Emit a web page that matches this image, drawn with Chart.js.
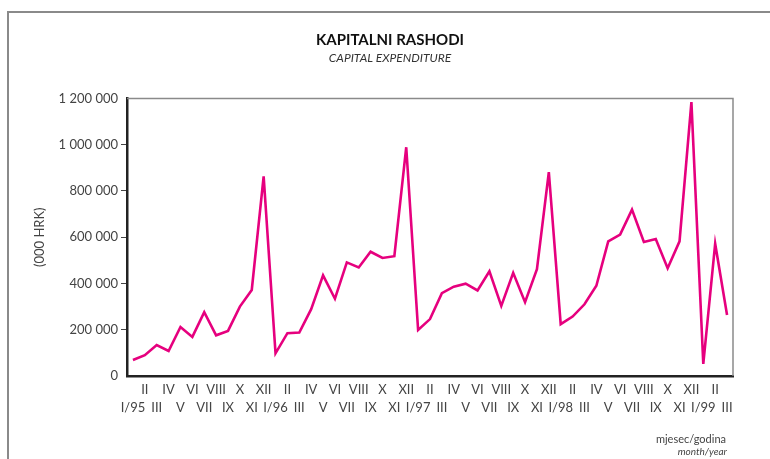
<!DOCTYPE html>
<html>
<head>
<meta charset="utf-8">
<script src="https://cdn.jsdelivr.net/npm/chart.js@4"></script>
<style>
  html, body { margin: 0; padding: 0; background: #fff; }
  #wrap { position: relative; width: 770px; height: 459px; }
</style>
</head>
<body>
<div id="wrap"><canvas id="c" width="770" height="459"></canvas></div>
<script>
// ---- Data ----
const romanMonths = ['I','II','III','IV','V','VI','VII','VIII','IX','X','XI','XII'];
const years = ['95','96','97','98','99'];
const monthsInLastYear = 3;

const capitalExpenditure = [
  // 1995
  69000, 90000, 134000, 108000, 212000, 169000, 276000, 176000, 195000, 300000, 372000, 863000,
  // 1996
  98000, 185000, 188000, 289000, 435000, 334000, 491000, 469000, 537000, 510000, 518000, 989000,
  // 1997
  199000, 246000, 358000, 386000, 399000, 370000, 453000, 303000, 446000, 319000, 462000, 881000,
  // 1998
  224000, 257000, 310000, 390000, 582000, 611000, 719000, 579000, 592000, 466000, 582000, 1184000,
  // 1999
  52000, 572000, 264000
];

const yTicks = [0, 200000, 400000, 600000, 800000, 1000000, 1200000];

const titleText = 'KAPITALNI RASHODI';
const subtitleText = 'CAPITAL EXPENDITURE';
const yAxisTitle = '(000 HRK)';
const xNoteLocal = 'mjesec/godina';
const xNoteEnglish = 'month/year';

// categories built from month names and years
const categories = [];
years.forEach((y, yi) => {
  const n = (yi === years.length - 1) ? monthsInLastYear : 12;
  for (let m = 0; m < n; m++) {
    categories.push(m === 0 ? 'I/' + y : romanMonths[m]);
  }
});

function fmt(v) {
  return String(v).replace(/\B(?=(\d{3})+(?!\d))/g, ' ');
}

const FONT = 'Lato, "Open Sans", sans-serif';

const framePlugin = {
  id: 'frame',
  beforeDraw(chart) {
    const ctx = chart.ctx;
    ctx.save();
    ctx.strokeStyle = '#8a8a8a';
    ctx.lineWidth = 2;
    ctx.beginPath();
    ctx.moveTo(8, 459);
    ctx.lineTo(8, 12);
    ctx.lineTo(770, 12);
    ctx.stroke();
    ctx.restore();
  },
  afterDatasetsDraw(chart) {
    const {ctx, chartArea: a} = chart;
    ctx.save();
    ctx.strokeStyle = '#8a8a8a';
    ctx.lineWidth = 1.5;
    ctx.beginPath();
    ctx.moveTo(a.left, a.top);
    ctx.lineTo(a.right, a.top);
    ctx.lineTo(a.right, a.bottom);
    ctx.stroke();
    ctx.restore();
  },
  afterDraw(chart) {
    const ctx = chart.ctx;
    ctx.save();
    ctx.fillStyle = '#444';
    ctx.textAlign = 'right';
    ctx.textBaseline = 'middle';
    ctx.font = '11px ' + FONT;
    ctx.fillText(xNoteLocal, 726, 439);
    ctx.font = 'italic 10px ' + FONT;
    ctx.fillText(xNoteEnglish, 727, 452);
    ctx.restore();
  }
};

const LEFT_PAD = 47;

new Chart(document.getElementById('c'), {
  type: 'line',
  data: {
    labels: categories,
    datasets: [{
      data: capitalExpenditure,
      borderColor: '#e6007e',
      borderWidth: 2.6,
      pointRadius: 0,
      tension: 0,
      fill: false
    }]
  },
  plugins: [framePlugin],
  options: {
    responsive: false,
    animation: false,
    devicePixelRatio: 1,
    layout: { padding: { top: 14, right: 37, bottom: 0, left: LEFT_PAD } },
    plugins: {
      legend: { display: false },
      tooltip: { enabled: false },
      title: {
        display: true,
        text: titleText,
        color: '#111',
        font: { family: FONT, size: 15, weight: 'bold' },
        padding: { top: 17, bottom: 2 }
      },
      subtitle: {
        display: true,
        text: subtitleText,
        color: '#333',
        font: { family: FONT, size: 12, style: 'italic' },
        padding: { top: 0, bottom: 33 }
      }
    },
    scales: {
      x: {
        type: 'category',
        offset: true,
        grid: { display: false, drawTicks: false },
        border: { display: true, color: '#222', width: 2.5 },
        ticks: {
          autoSkip: false,
          maxRotation: 0,
          minRotation: 0,
          padding: 4,
          color: '#444',
          font: { family: FONT, size: 13, lineHeight: 1.45 },
          callback: function(value, index) {
            const lab = categories[index];
            return index % 2 === 0 ? ['', lab] : [lab, ''];
          }
        },
        afterFit(scale) { scale.height = 83; }
      },
      y: {
        min: 0,
        max: 1200000,
        afterBuildTicks(scale) { scale.ticks = yTicks.map(v => ({ value: v })); },
        grid: {
          drawOnChartArea: false,
          drawTicks: true,
          tickLength: 6,
          tickColor: (ctx) => (ctx.tick && (ctx.tick.value === 0 || ctx.tick.value === 1200000)) ? 'rgba(0,0,0,0)' : '#444',
          tickWidth: 1
        },
        border: { display: true, color: '#222', width: 2.5 },
        ticks: {
          padding: 3,
          color: '#444',
          font: { family: FONT, size: 13 },
          callback: (v) => fmt(v)
        },
        title: {
          display: true,
          text: yAxisTitle,
          color: '#444',
          font: { family: FONT, size: 13 },
          padding: { top: 32 - LEFT_PAD, bottom: 0 }
        },
        afterFit(scale) { scale.width = 127 - LEFT_PAD; }
      }
    }
  }
});
</script>
</body>
</html>
